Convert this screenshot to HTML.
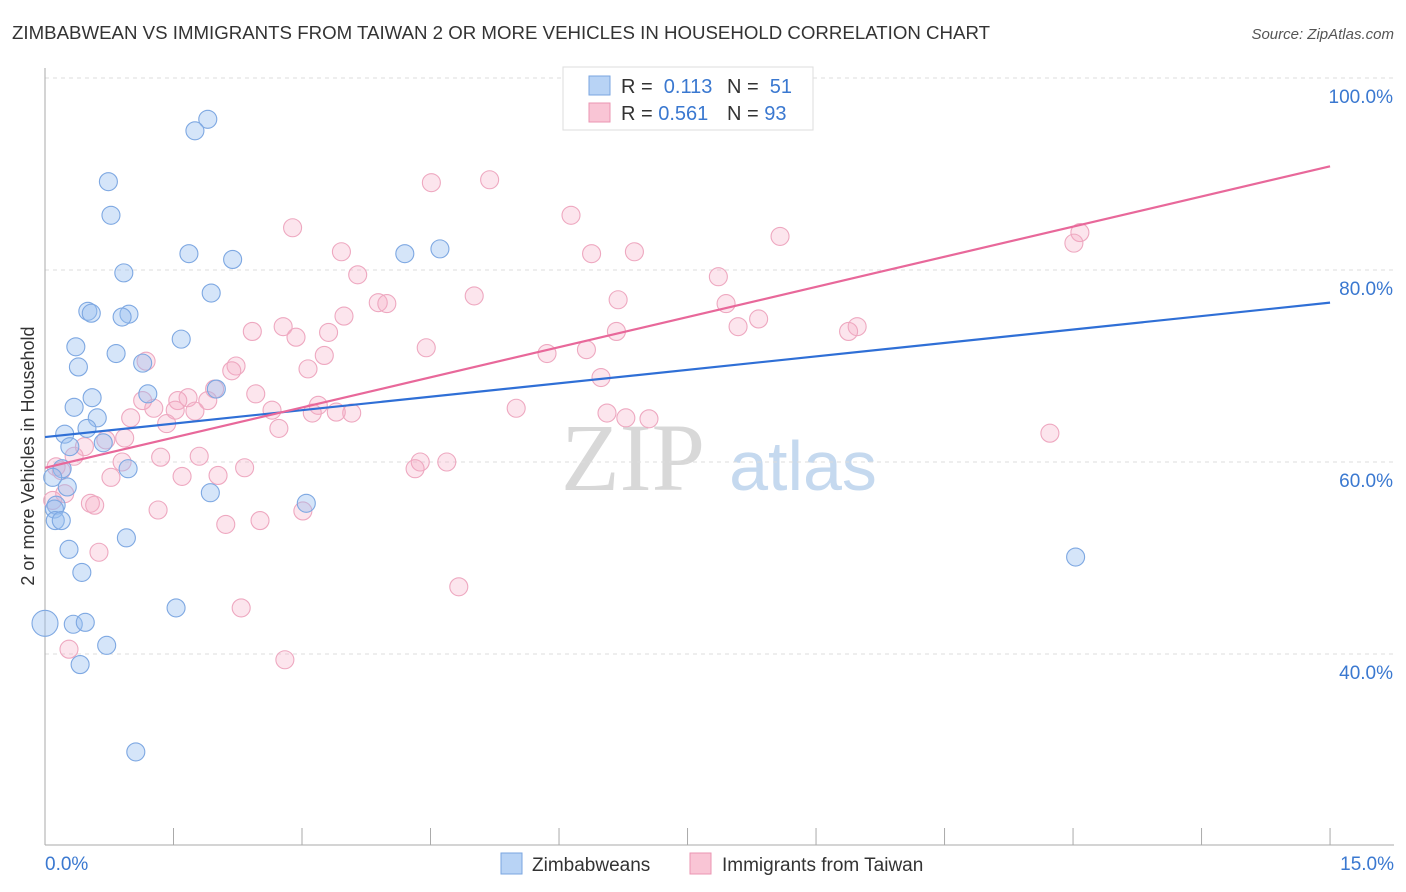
<!DOCTYPE html>
<html><head><meta charset="utf-8"><style>
body{margin:0;background:#fff;font-family:"Liberation Sans",sans-serif}
svg{display:block}
</style></head><body>
<svg id="chart" width="1406" height="892" xmlns="http://www.w3.org/2000/svg">
<text x="12" y="39" font-size="18" fill="#333" textLength="978" lengthAdjust="spacingAndGlyphs">ZIMBABWEAN VS IMMIGRANTS FROM TAIWAN 2 OR MORE VEHICLES IN HOUSEHOLD CORRELATION CHART</text>
<text x="1394" y="39" font-size="15" fill="#555" text-anchor="end" font-style="italic">Source: ZipAtlas.com</text>
<g>
<text x="633" y="490" font-size="96" fill="#d8d8d8" text-anchor="middle" font-family="Liberation Serif">ZIP</text>
<text x="803" y="490" font-size="70" fill="#c5d9ef" text-anchor="middle">atlas</text>
</g>
<g id="grid"></g>
<g id="axes"></g>
<g id="pts"></g>
<g id="trends"></g>
<text transform="translate(34,456) rotate(-90)" font-size="18" fill="#333" text-anchor="middle">2 or more Vehicles in Household</text>
<g>
<rect x="563" y="67" width="250" height="63" fill="#fff" stroke="#ddd"/>
<rect x="589" y="76" width="21" height="19" fill="#b8d3f5" stroke="#7aa6e0"/>
<text x="621" y="93" font-size="20" fill="#333">R = <tspan fill="#3a78d0">&#160;0.113</tspan><tspan x="727">N = </tspan><tspan fill="#3a78d0">&#160;51</tspan></text>
<rect x="589" y="103" width="21" height="19" fill="#f9c5d5" stroke="#eb95b2"/>
<text x="621" y="120" font-size="20" fill="#333">R = <tspan fill="#3a78d0">0.561</tspan><tspan x="727">N = </tspan><tspan fill="#3a78d0">93</tspan></text>
</g>
<g>
<rect x="501" y="853" width="21" height="21" fill="#b8d3f5" stroke="#7aa6e0"/>
<text x="532" y="871" font-size="19" fill="#333">Zimbabweans</text>
<rect x="690" y="853" width="21" height="21" fill="#f9c5d5" stroke="#eb95b2"/>
<text x="722" y="871" font-size="19" fill="#333">Immigrants from Taiwan</text>
</g>
</svg>
<script>
const yTicks=[40,60,80,100];
const xTickLabels=["0.0%","15.0%"];
const blueX=[0,1.90,1.75,0.74,0.77,1.68,2.19,4.20,4.61,0.92,1.94,0.50,0.54,0.98,0.90,1.59,0.36,0.83,0.39,1.14,1.20,2.00,0.55,0.34,0.61,0.49,0.23,0.29,0.68,0.20,0.97,0.09,0.26,0.13,0.11,0.12,0.19,3.05,1.93,0.95,0.28,0.43,12.03,1.53,0.33,0.47,0.72,0.41,1.06];
const blueY=[43.2,95.7,94.5,89.2,85.7,81.7,81.1,81.7,82.2,79.7,77.6,75.7,75.5,75.4,75.1,72.8,72.0,71.3,69.9,70.3,67.1,67.6,66.7,65.7,64.6,63.5,62.9,61.6,62.0,59.3,59.3,58.4,57.4,55.5,55.1,53.9,53.9,55.7,56.8,52.1,50.9,48.5,50.1,44.8,43.1,43.3,40.9,38.9,29.8];
const pinkX=[6.29,5.19,4.51,6.14,2.89,3.46,6.38,6.88,12.08,12.01,8.58,3.65,7.86,5.01,3.89,3.99,6.69,7.95,3.49,2.78,2.42,2.93,3.31,8.33,8.09,9.48,9.38,6.67,4.45,5.86,6.32,3.26,1.18,2.23,3.07,2.18,6.49,1.98,2.46,1.67,1.55,1.14,1.90,1.27,1.75,2.65,1.52,3.19,3.12,3.58,3.40,1.00,5.50,6.56,6.78,7.05,1.42,2.73,0.93,0.71,11.73,0.46,0.34,1.35,0.90,1.80,4.38,4.69,4.32,2.33,1.60,0.77,2.02,0.13,0.19,0.23,0.09,0.53,0.58,1.32,3.01,2.11,2.51,0.63,4.83,2.29,0.28,2.80];
const pinkY=[99.8,89.4,89.1,85.7,84.4,81.9,81.7,81.9,83.9,82.8,83.5,79.5,79.3,77.3,76.6,76.5,76.9,76.5,75.2,74.1,73.6,73.0,73.5,74.9,74.1,74.1,73.6,73.6,71.9,71.3,71.7,71.1,70.5,70.0,69.7,69.5,68.8,67.6,67.1,66.7,66.4,66.4,66.4,65.6,65.3,65.4,65.4,65.9,65.1,65.1,65.2,64.6,65.6,65.1,64.6,64.5,64.0,63.5,62.5,62.3,63.0,61.6,60.6,60.5,60.0,60.6,60.0,60.0,59.3,59.4,58.5,58.4,58.6,59.5,59.1,56.7,56.0,55.7,55.5,55.0,54.9,53.5,53.9,50.6,47.0,44.8,40.5,39.4];
const blueTrend=[62.6,76.6];
const pinkTrend=[59.4,90.8];
const NS="http://www.w3.org/2000/svg";
const xs=v=>45+v*85.67, ys=v=>78+(100-v)*9.6;
function mk(tag,attrs,parent){const e=document.createElementNS(NS,tag);for(const k in attrs)e.setAttribute(k,attrs[k]);parent.appendChild(e);return e;}
const grid=document.getElementById('grid'),axes=document.getElementById('axes'),pts=document.getElementById('pts'),tr=document.getElementById('trends');
yTicks.forEach(t=>{
const l=mk('line',{x1:45,x2:1394,y1:ys(t),y2:ys(t),stroke:'#ddd','stroke-dasharray':'4,4'},grid);


const tx=mk('text',{x:1393,y:ys(t)+25,'font-size':19,fill:'#3a78d0','text-anchor':'end'},axes);
tx.textContent=t.toFixed(1)+'%';


});
const ax=mk('line',{x1:45,x2:1394,y1:845,y2:845,stroke:'#aaa'},axes);


const ay=mk('line',{x1:45,x2:45,y1:68,y2:845,stroke:'#aaa'},axes);


for(let i=0;i<=10;i++){const t=mk('line',{x1:xs(i*1.5),x2:xs(i*1.5),y1:828,y2:845,stroke:'#aaa'},axes);

}
[[xTickLabels[0],45,'start'],[xTickLabels[1],1394,'end']].forEach(a=>{const t=mk('text',{x:a[1],y:870,'font-size':19,fill:'#3a78d0','text-anchor':a[2]},axes);t.textContent=a[0];

});
pinkX.forEach((v,i)=>{const c=mk('circle',{cx:xs(v),cy:ys(pinkY[i]),r:9,fill:'rgba(245,170,195,0.3)',stroke:'#eea8c0','stroke-width':1.1},pts);

});
blueX.forEach((v,i)=>{const c=mk('circle',{cx:xs(v),cy:ys(blueY[i]),r:i==0?13:9,fill:'rgba(150,190,240,0.4)',stroke:'#7ea8e2','stroke-width':1.1},pts);

});
const bl=mk('line',{x1:xs(0),y1:ys(blueTrend[0]),x2:xs(15),y2:ys(blueTrend[1]),stroke:'#2f6fd6','stroke-width':2.2},tr);


const pl=mk('line',{x1:xs(0),y1:ys(pinkTrend[0]),x2:xs(15),y2:ys(pinkTrend[1]),stroke:'#e8689a','stroke-width':2.2},tr);


</script>
</body></html>
